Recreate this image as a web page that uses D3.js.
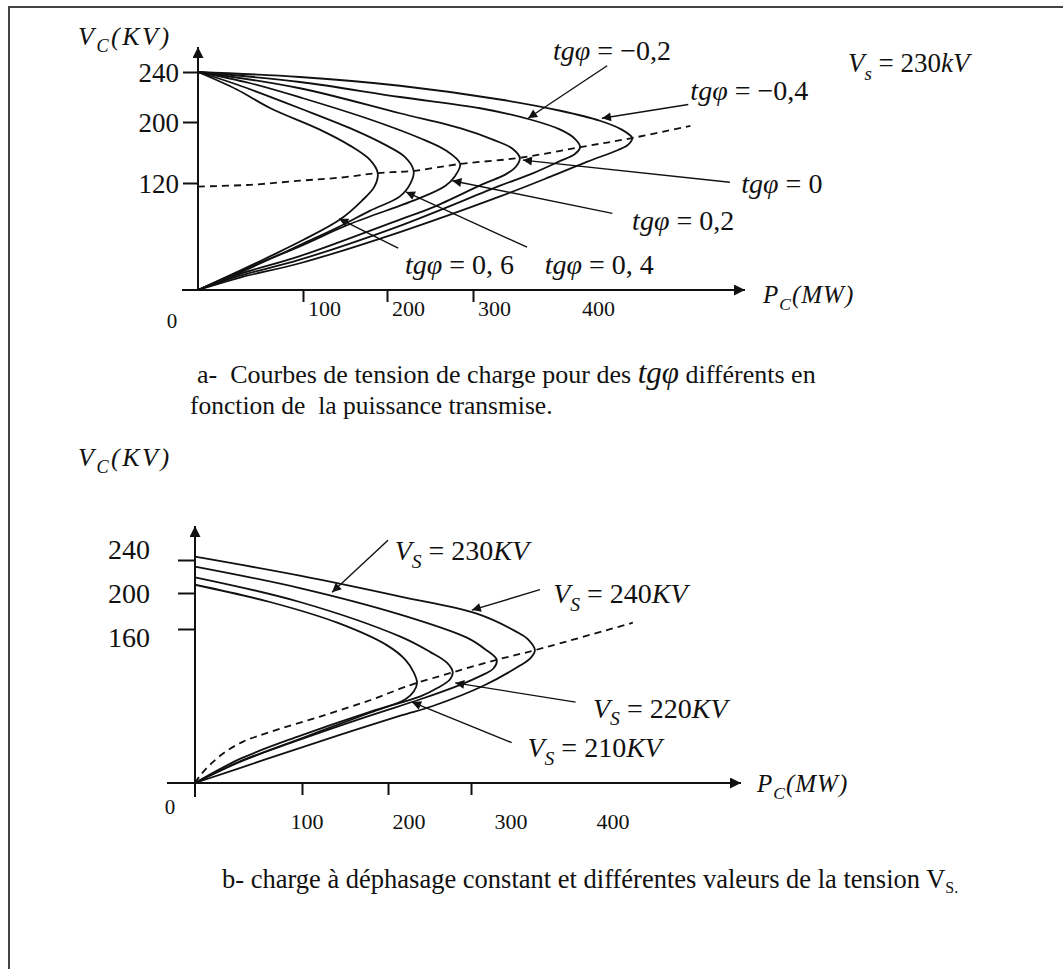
<!DOCTYPE html>
<html>
<head>
<meta charset="utf-8">
<script src="https://cdnjs.cloudflare.com/ajax/libs/d3/7.8.5/d3.min.js"></script>
<style>
  body { margin: 0; background: #fff; }
  svg text { font-family: "Liberation Serif", "Times New Roman", serif; fill: #111; white-space: pre; }
</style>
</head>
<body>
<div id="chart"></div>
<script>
// ---------- panel a : Vc(Pc) for several tgφ, Vs = 230 kV ----------
// points are [Pc (MW), Vc (kV)], walked from the 240 kV start, round the nose, back to 0
const tgA_m04 = [[0,240],[97,236],[215,229],[326,218],[384,209],[422,201],[443,190],[453,179],[449,170],[439,163],[410,148],[374,128],[326,105],[215,65],[97,30],[40,14],[0,0]];
const tgA_m02 = [[0,240],[97,232],[215,220],[307,211],[355,202],[384,190],[398,178],[403,167],[398,158],[384,149],[358,133],[326,117],[215,72],[97,34],[40,16],[0,0]];
const tgA_0   = [[0,240],[97,227],[215,207],[285,192],[321,176],[338,165],[345,153],[341,141],[331,131],[310,119],[254,93],[215,79],[97,38],[40,18],[0,0]];
const tgA_p02 = [[0,240],[50,231],[100,219],[180,202],[238,179],[268,163],[285,145],[279,129],[268,117],[238,103],[156,74],[97,49],[50,26],[0,0]];
const tgA_p04 = [[0,240],[37,230],[100,210],[160,190],[198,170],[221,154],[231,136],[227,119],[215,105],[180,89],[141,70],[100,52],[69,35],[37,18],[0,0]];
const tgA_p06 = [[0,240],[37,226],[69,211],[120,190],[156,169],[180,150],[189,133],[185,116],[170,100],[144,79],[100,56],[69,38],[37,20],[0,0]];
// locus of the critical points (dashed)
const critA = [[0,116],[50,118],[97,123],[144,127],[189,133],[231,136],[285,145],[345,153],[403,167],[453,179],[509,195]];

const tgValuesA = ['−0,4', '−0,2', '0', '0,2', '0, 4', '0, 6'];
// label anchor, leader start, arrow tip (data units)
const tgLabelPos = [[509,218],[377,250],[558,109],[453,67],[369,18],[221,18]];
const tgLeadFrom = [[507,214],[429,245],[547,121],[434,86],[352,48],[213,47]];
const tgLeadTo   = [[424,203],[353,203],[348,150],[276,123],[222,110],[143,80]];

const ticksA_x = [100, 200, 300];
const labelsA_x = [100, 200, 300, 400];
const ticksA_y = [120, 200, 240];

// ---------- panel b : constant phase, several Vs ----------
const vsB_240 = [[0,244],[98,221],[215,196],[307,177],[355,157],[369,149],[377,138],[372,130],[359,122],[315,101],[254,80],[215,70],[144,50],[70,26],[0,0]];
const vsB_230 = [[0,232],[98,206],[215,176],[295,151],[317,139],[331,128],[327,119],[311,111],[287,102],[239,87],[179,70],[98,45],[42,22],[0,0]];
const vsB_220 = [[0,219],[98,190],[215,152],[251,136],[271,125],[278,115],[274,107],[260,99],[239,90],[179,74],[98,49],[42,25],[0,0]];
const vsB_210 = [[0,210],[70,190],[141,167],[199,143],[221,128],[231,115],[235,104],[231,95],[221,87],[179,73],[101,47],[39,21],[0,0]];
const critB = [[0,0],[5,8],[14,19],[28,32],[45,43],[70,53],[121,69],[179,86],[218,99],[235,104],[278,115],[331,128],[377,138],[495,167]];

const vsValuesB = ['230', '240', '220', '210'];
const vsLabelPos = [[208,240],[399,189],[447,68],[368,27]];
const vsLeadFrom = [[200,264],[383,204],[426,84],[349,42]];
const vsLeadTo   = [[135,201],[301,181],[281,104],[229,84]];

const ticksB_x = [100, 200, 300];
const labelsB_x = [100, 200, 300, 400];
const ticksB_y = [160, 200, 240];

// ---------- svg ----------
const W = 1063, H = 969;
const svg = d3.select('#chart').append('svg')
    .attr('width', W).attr('height', H)
    .attr('font-family', '"Liberation Serif", "Times New Roman", serif');

const defs = svg.append('defs');
function marker(id, w, h) {
  defs.append('marker')
      .attr('id', id)
      .attr('viewBox', '0 0 10 10')
      .attr('refX', 10).attr('refY', 5)
      .attr('markerUnits', 'userSpaceOnUse')
      .attr('markerWidth', w).attr('markerHeight', h)
      .attr('orient', 'auto')
    .append('path')
      .attr('d', 'M0,0L10,5L0,10z')
      .attr('fill', '#111');
}
marker('lead', 15, 9);
marker('axis', 17, 11);

// page frame (right and bottom edges fall outside the picture)
svg.append('rect')
    .attr('x', 9).attr('y', 7).attr('width', 1200).attr('height', 1100)
    .attr('fill', 'none').attr('stroke', '#444').attr('stroke-width', 2);

// text with italic / subscript pieces
function richText(parent, x, y, parts, size, spacing) {
  const t = parent.append('text').attr('x', x).attr('y', y).style('font-size', size + 'px');
  if (spacing) t.style('letter-spacing', spacing + 'px');
  let shift = 0;
  parts.forEach(p => {
    const s = t.append('tspan').text(p.t);
    if (p.it) s.style('font-style', 'italic');
    const want = p.sub ? size * 0.28 : 0;
    if (want !== shift) { s.attr('dy', want - shift); shift = want; }
    if (p.sub) s.style('font-size', (size * 0.7) + 'px');
  });
  return t;
}

function curveLine(x, y) {
  return d3.line()
    .x(d => x(d[0]))
    .y(d => y(d[1]))
    .curve(d3.curveCatmullRom.alpha(0.5));
}

function styleTicks(g) {
  g.select('.domain').remove();
  g.selectAll('line').attr('stroke', '#111').attr('stroke-width', 2);
}

// ================= panel a =================
const xA = d3.scaleLinear().domain([0, 100, 200, 300, 400]).range([198, 303, 387, 473, 577]);
const yA = d3.scaleLinear().domain([0, 120, 200, 240]).range([290, 183, 122, 72]);
const gA = svg.append('g');

// axes with arrows
gA.append('line')
    .attr('x1', xA(0) - 16).attr('x2', 745)
    .attr('y1', yA(0)).attr('y2', yA(0))
    .attr('stroke', '#111').attr('stroke-width', 2).attr('marker-end', 'url(#axis)');
gA.append('line')
    .attr('x1', xA(0)).attr('x2', xA(0))
    .attr('y1', yA(0)).attr('y2', 47)
    .attr('stroke', '#111').attr('stroke-width', 2).attr('marker-end', 'url(#axis)');

gA.append('g')
    .attr('transform', `translate(${xA(0)},0)`)
    .call(d3.axisLeft(yA).tickValues(ticksA_y).tickSize(15).tickPadding(4).tickFormat(d3.format('d')))
    .call(styleTicks)
    .attr('font-family', null).attr('font-size', null)
    .selectAll('text').style('font-size', '27px').attr('dy', '0.34em');

gA.append('g')
    .attr('transform', `translate(0,${yA(0)})`)
    .call(d3.axisBottom(xA).tickValues(ticksA_x).tickSize(12).tickFormat(''))
    .call(styleTicks);

gA.selectAll('text.xlab')
  .data(labelsA_x)
  .join('text')
    .attr('class', 'xlab')
    .attr('x', d => xA(d) + 5)
    .attr('y', 316)
    .style('font-size', '22px')
    .text(d => d);

gA.append('text').attr('x', 172).attr('y', 328).attr('text-anchor', 'middle').style('font-size', '21px').text('0');

// curves
const lineA = curveLine(xA, yA);
gA.selectAll('path.curve')
  .data([tgA_m04, tgA_m02, tgA_0, tgA_p02, tgA_p04, tgA_p06])
  .join('path')
    .attr('class', 'curve')
    .attr('d', lineA)
    .attr('fill', 'none')
    .attr('stroke', '#111')
    .attr('stroke-width', 1.8);

gA.append('path')
    .attr('d', lineA(critA))
    .attr('fill', 'none')
    .attr('stroke', '#111')
    .attr('stroke-width', 1.8)
    .attr('stroke-dasharray', '7,5');

// leaders and labels
tgValuesA.forEach((v, i) => {
  gA.append('line')
      .attr('x1', xA(tgLeadFrom[i][0])).attr('y1', yA(tgLeadFrom[i][1]))
      .attr('x2', xA(tgLeadTo[i][0])).attr('y2', yA(tgLeadTo[i][1]))
      .attr('stroke', '#111').attr('stroke-width', 1.4)
      .attr('marker-end', 'url(#lead)');
  richText(gA, xA(tgLabelPos[i][0]), yA(tgLabelPos[i][1]),
    [{ t: 'tgφ', it: 1 }, { t: ' = ' + v }], 28);
});

richText(gA, 78, 45, [{ t: 'V', it: 1 }, { t: 'C', it: 1, sub: 1 }, { t: '(KV)', it: 1 }], 26, 2.5);
richText(gA, 763, 303, [{ t: 'P', it: 1 }, { t: 'C', it: 1, sub: 1 }, { t: '(MW)', it: 1 }], 25, 1);
richText(gA, 848, 72, [{ t: 'V', it: 1 }, { t: 's', it: 1, sub: 1 }, { t: ' = 230' }, { t: 'kV', it: 1 }], 27);

// caption a
const capA = svg.append('text').attr('x', 197).attr('y', 383).style('font-size', '26px');
capA.append('tspan').text('a-  Courbes de tension de charge pour des ');
capA.append('tspan').text('tgφ').style('font-style', 'italic').style('font-size', '31px');
capA.append('tspan').text(' différents en');
svg.append('text').attr('x', 190).attr('y', 414).style('font-size', '25.5px').text('fonction de  la puissance transmise.');

// ================= panel b =================
const xB = d3.scaleLinear().domain([0, 100, 200, 300]).range([195, 302, 388, 471]);
const yB = d3.scaleLinear().domain([0, 160, 200, 240]).range([783, 629, 593, 560]);
// the printed numbers sit on their own regular grid
const xLabB = d3.scaleLinear().domain([100, 400]).range([307, 613]);
const yLabB = d3.scaleLinear().domain([160, 240]).range([637, 549]);
const gB = svg.append('g');

gB.append('line')
    .attr('x1', xB(0) - 28).attr('x2', 741)
    .attr('y1', yB(0)).attr('y2', yB(0))
    .attr('stroke', '#111').attr('stroke-width', 2).attr('marker-end', 'url(#axis)');
gB.append('line')
    .attr('x1', xB(0)).attr('x2', xB(0))
    .attr('y1', yB(0) + 14).attr('y2', 526)
    .attr('stroke', '#111').attr('stroke-width', 2).attr('marker-end', 'url(#axis)');

gB.append('g')
    .attr('transform', `translate(${xB(0)},0)`)
    .call(d3.axisLeft(yB).tickValues(ticksB_y).tickSize(17).tickFormat(''))
    .call(styleTicks);

gB.append('g')
    .attr('transform', `translate(0,${yB(0)})`)
    .call(d3.axisBottom(xB).tickValues(ticksB_x).tickSize(12).tickFormat(''))
    .call(styleTicks);

gB.selectAll('text.ylab')
  .data(ticksB_y)
  .join('text')
    .attr('class', 'ylab')
    .attr('x', 150)
    .attr('y', d => yLabB(d))
    .attr('dy', '0.34em')
    .attr('text-anchor', 'end')
    .style('font-size', '28px')
    .text(d => d);

gB.selectAll('text.xlab')
  .data(labelsB_x)
  .join('text')
    .attr('class', 'xlab')
    .attr('x', d => xLabB(d))
    .attr('y', 829)
    .attr('text-anchor', 'middle')
    .style('font-size', '22px')
    .text(d => d);

gB.append('text').attr('x', 170).attr('y', 814).attr('text-anchor', 'middle').style('font-size', '21px').text('0');

const lineB = curveLine(xB, yB);
gB.selectAll('path.curve')
  .data([vsB_240, vsB_230, vsB_220, vsB_210])
  .join('path')
    .attr('class', 'curve')
    .attr('d', lineB)
    .attr('fill', 'none')
    .attr('stroke', '#111')
    .attr('stroke-width', 1.8);

gB.append('path')
    .attr('d', lineB(critB))
    .attr('fill', 'none')
    .attr('stroke', '#111')
    .attr('stroke-width', 1.8)
    .attr('stroke-dasharray', '7,5');

vsValuesB.forEach((v, i) => {
  gB.append('line')
      .attr('x1', xB(vsLeadFrom[i][0])).attr('y1', yB(vsLeadFrom[i][1]))
      .attr('x2', xB(vsLeadTo[i][0])).attr('y2', yB(vsLeadTo[i][1]))
      .attr('stroke', '#111').attr('stroke-width', 1.4)
      .attr('marker-end', 'url(#lead)');
  richText(gB, xB(vsLabelPos[i][0]), yB(vsLabelPos[i][1]),
    [{ t: 'V', it: 1 }, { t: 'S', it: 1, sub: 1 }, { t: ' = ' + v }, { t: 'KV', it: 1 }], 28);
});

richText(gB, 78, 466, [{ t: 'V', it: 1 }, { t: 'C', it: 1, sub: 1 }, { t: '(KV)', it: 1 }], 26, 2.5);
richText(gB, 757, 792, [{ t: 'P', it: 1 }, { t: 'C', it: 1, sub: 1 }, { t: '(MW)', it: 1 }], 25, 1);

// caption b
const capB = svg.append('text').attr('x', 222).attr('y', 888).style('font-size', '26.5px');
capB.append('tspan').text('b- charge à déphasage constant et différentes valeurs de la tension V');
capB.append('tspan').text('S.').attr('dy', 5).style('font-size', '16px');
</script>
</body>
</html>
